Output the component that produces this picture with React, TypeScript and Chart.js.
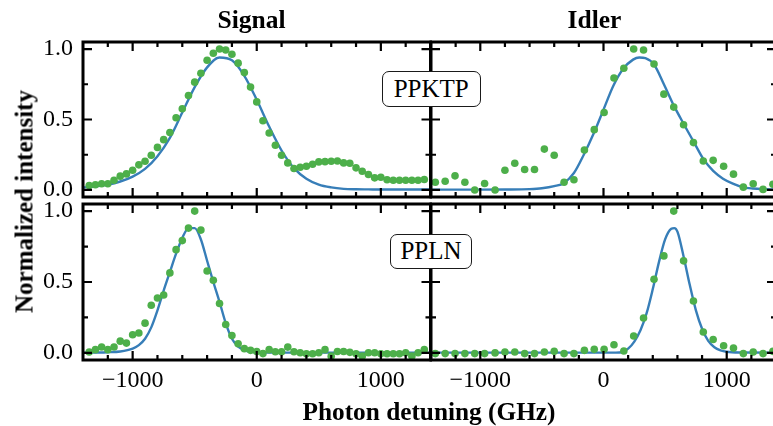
import React, { useEffect, useRef } from 'react';
import { Chart, registerables } from 'chart.js';

Chart.register(...registerables);

// ---------------- data ----------------
const X_MIN = -1400;
const X_MAX = 1400;
const Y_MIN = -0.05;
const Y_MAX = 1.05;

const X_MAJOR_TICKS = [-1000, 0, 1000];
const X_TICK_LABELS = ['\u22121000', '0', '1000'];
const X_MINOR_TICKS = [-1200, -800, -600, -400, -200, 200, 400, 600, 800, 1200];
const Y_MAJOR_TICKS = [0, 0.5, 1.0];
const Y_TICK_LABELS = ['0.0', '0.5', '1.0'];
const Y_MINOR_TICKS = [0.25, 0.75];

const PANEL_TITLES = ['Signal', 'Idler'];
const CRYSTALS = ['PPKTP', 'PPLN'];
const X_TITLE = 'Photon detuning (GHz)';
const Y_TITLE = 'Normalized intensity';

// Signal detuning grid (GHz) of the measured points
const SIGNAL_DET = [
  -1350, -1300, -1250, -1200, -1150, -1100, -1050, -1000, -950, -900, -850, -800, -750, -700,
  -650, -600, -550, -500, -450, -400, -350, -300, -250, -200, -150, -100, -50, 0, 50, 100, 150,
  200, 250, 300, 350, 400, 450, 500, 550, 600, 650, 700, 750, 800, 850, 900, 950, 1000, 1050,
  1100, 1150, 1200, 1250, 1300, 1350,
];
// Idler detuning grid (GHz) of the measured points
const IDLER_DET = [
  -1365, -1285, -1205, -1125, -1045, -965, -880, -800, -720, -640, -560, -480, -400, -320, -240,
  -155, -75, 5, 85, 165, 245, 325, 410, 490, 570, 650, 730, 810, 890, 975, 1055, 1135, 1215,
  1295, 1375,
];

const KTP_SIGNAL = [
  0.032, 0.037, 0.044, 0.044, 0.069, 0.098, 0.114, 0.14, 0.178, 0.204, 0.246, 0.302, 0.357, 0.408,
  0.512, 0.576, 0.67, 0.765, 0.828, 0.92, 0.97, 1.0, 0.993, 0.963, 0.9, 0.833, 0.73, 0.625, 0.491,
  0.404, 0.317, 0.246, 0.192, 0.152, 0.161, 0.168, 0.182, 0.199, 0.201, 0.204, 0.206, 0.192, 0.189,
  0.157, 0.133, 0.11, 0.086, 0.09, 0.072, 0.069, 0.069, 0.069, 0.069, 0.069, 0.074,
];
const KTP_IDLER = [
  0.055, 0.062, 0.1, 0.055, 0.0, 0.046, 0.0, 0.14, 0.19, 0.145, 0.145, 0.29, 0.246, 0.055, 0.072,
  0.284, 0.428, 0.55, 0.795, 0.864, 1.0, 0.993, 0.894, 0.68, 0.588, 0.463, 0.336, 0.206, 0.21,
  0.168, 0.112, 0.02, 0.044, 0.004, 0.04,
];
const LN_SIGNAL = [
  0.006, 0.023, 0.042, 0.023, 0.042, 0.083, 0.069, 0.128, 0.14, 0.21, 0.336, 0.387, 0.408, 0.564,
  0.728, 0.792, 0.88, 1.0, 0.866, 0.578, 0.512, 0.348, 0.2, 0.122, 0.065, 0.03, 0.018, 0.01, -0.005,
  0.023, 0.008, 0.008, 0.041, 0.008, 0.001, -0.006, -0.006, 0.001, 0.023, -0.023, 0.01, 0.01, 0.004,
  -0.006, -0.023, 0.001, 0.001, -0.006, -0.006, -0.006, -0.006, 0.001, -0.023, 0.001, 0.023,
];
const LN_IDLER = [
  -0.005, -0.005, -0.005, -0.005, -0.005, -0.005, 0.0, 0.006, 0.006, -0.005, -0.005, 0.006, 0.011,
  -0.005, -0.005, 0.018, 0.025, 0.025, 0.058, 0.013, 0.119, 0.246, 0.519, 0.684, 1.0, 0.649, 0.366,
  0.147, 0.095, 0.051, 0.034, -0.005, 0.006, -0.005, 0.011,
];

// fitted curves
const KTP_SIGNAL_FIT_DET = [
  -1400, -1300, -1200, -1100, -1000, -900, -800, -700, -600, -500, -400, -300, -200, -100, 0, 100,
  200, 300, 400, 500, 600, 700, 800, 900, 1000, 1200, 1400,
];
const KTP_SIGNAL_FIT = [
  0.017, 0.026, 0.038, 0.06, 0.095, 0.15, 0.24, 0.37, 0.55, 0.73, 0.87, 0.94, 0.92, 0.81, 0.64,
  0.45, 0.28, 0.155, 0.08, 0.038, 0.018, 0.008, 0.005, 0.004, 0.003, 0.003, 0.003,
];
const KTP_IDLER_FIT_DET = [
  -1400, -1000, -800, -600, -500, -400, -320, -240, -160, -80, 0, 80, 160, 240, 290, 340, 410, 490,
  570, 650, 730, 810, 890, 970, 1050, 1130, 1210, 1300, 1400,
];
const KTP_IDLER_FIT = [
  0.002, 0.002, 0.003, 0.006, 0.012, 0.027, 0.05, 0.12, 0.25, 0.4, 0.57, 0.74, 0.86, 0.925, 0.94,
  0.935, 0.89, 0.75, 0.6, 0.47, 0.345, 0.22, 0.135, 0.08, 0.045, 0.02, 0.01, 0.005, 0.003,
];
const LN_SIGNAL_FIT_DET = [
  -1400, -1300, -1200, -1100, -1000, -950, -900, -850, -800, -750, -700, -650, -600, -550, -500,
  -450, -400, -350, -300, -250, -200, -150, -100, -50, 0, 200, 1400,
];
const LN_SIGNAL_FIT = [
  0.002, 0.003, 0.005, 0.01, 0.03, 0.055, 0.1, 0.18, 0.3, 0.44, 0.57, 0.7, 0.81, 0.88, 0.88, 0.8,
  0.65, 0.5, 0.36, 0.21, 0.1, 0.045, 0.02, 0.008, 0.004, 0.002, 0.002,
];
const LN_IDLER_FIT_DET = [
  -1400, 100, 150, 200, 250, 300, 350, 400, 450, 500, 550, 575, 600, 650, 700, 750, 800, 850, 900,
  950, 1000, 1100, 1400,
];
const LN_IDLER_FIT = [
  0.002, 0.002, 0.005, 0.03, 0.08, 0.16, 0.28, 0.45, 0.64, 0.8, 0.875, 0.88, 0.855, 0.68, 0.48, 0.3,
  0.17, 0.085, 0.04, 0.018, 0.008, 0.003, 0.002,
];

// ---------------- layout / style ----------------
const CW = 780;
const CH = 426;
const GREEN = '#4daf4a';
const BLUE = '#377eb8';
const SERIF = '"Liberation Serif", "Times New Roman", serif';

type Area = { left: number; top: number; right: number; bottom: number };

const AREAS: Area[] = [
  { left: 83, top: 42, right: 430.5, bottom: 197 },
  { left: 431, top: 42, right: 778.5, bottom: 197 },
  { left: 83, top: 204, right: 430.5, bottom: 360 },
  { left: 431, top: 204, right: 778.5, bottom: 360 },
];

const frameTicksPlugin = {
  id: 'frameTicks',
  afterDatasetsDraw(chart: any) {
    const { ctx, chartArea: a, scales } = chart;
    const xs = scales.x;
    const ys = scales.y;
    ctx.save();
    ctx.strokeStyle = '#000';
    ctx.lineWidth = 2.2;
    ctx.lineCap = 'butt';
    ctx.beginPath();
    const xt = (vals: number[], len: number) => {
      vals.forEach((v) => {
        const p = xs.getPixelForValue(v);
        ctx.moveTo(p, a.bottom);
        ctx.lineTo(p, a.bottom - len);
        ctx.moveTo(p, a.top);
        ctx.lineTo(p, a.top + len);
      });
    };
    const yt = (vals: number[], len: number) => {
      vals.forEach((v) => {
        const p = ys.getPixelForValue(v);
        ctx.moveTo(a.left, p);
        ctx.lineTo(a.left + len, p);
        ctx.moveTo(a.right, p);
        ctx.lineTo(a.right - len, p);
      });
    };
    xt(X_MAJOR_TICKS, 9);
    xt(X_MINOR_TICKS, 5);
    yt(Y_MAJOR_TICKS, 9);
    yt(Y_MINOR_TICKS, 5);
    ctx.stroke();
    ctx.lineWidth = 3;
    ctx.strokeRect(a.left, a.top, a.right - a.left, a.bottom - a.top);
    ctx.restore();
  },
};

type PanelProps = {
  area: Area;
  detX: number[];
  intY: number[];
  fitX: number[];
  fitY: number[];
  xLabels: boolean;
  yLabels: boolean;
};

function Panel({ area, detX, intY, fitX, fitY, xLabels, yLabels }: PanelProps) {
  const ref = useRef<HTMLCanvasElement | null>(null);
  useEffect(() => {
    if (!ref.current) return;
    const font = { family: SERIF, size: 24 };
    const chart = new Chart(ref.current, {
      type: 'scatter',
      data: {
        datasets: [
          {
            data: detX.map((x, i) => ({ x, y: intY[i] })),
            pointRadius: 3.8,
            pointBackgroundColor: GREEN,
            pointBorderWidth: 0,
            showLine: false,
            order: 0,
          } as any,
          {
            data: fitX.map((x, i) => ({ x, y: fitY[i] })),
            showLine: true,
            pointRadius: 0,
            borderColor: BLUE,
            borderWidth: 2.4,
            cubicInterpolationMode: 'monotone',
            fill: false,
            order: 1,
          } as any,
        ],
      },
      options: {
        animation: false,
        responsive: false,
        devicePixelRatio: 1,
        events: [],
        layout: {
          padding: {
            left: yLabels ? 0 : area.left,
            top: area.top,
            right: CW - area.right,
            bottom: xLabels ? 0 : CH - area.bottom,
          },
        },
        scales: {
          x: {
            type: 'linear',
            min: X_MIN,
            max: X_MAX,
            display: xLabels,
            afterBuildTicks: (s: any) => {
              s.ticks = X_MAJOR_TICKS.map((value) => ({ value }));
            },
            afterFit: (s: any) => {
              s.height = xLabels ? CH - area.bottom : 0;
            },
            ticks: {
              callback: (_v: any, i: number) => X_TICK_LABELS[i],
              font,
              color: '#000',
              padding: 6,
              maxRotation: 0,
              autoSkip: false,
            },
            grid: { display: false, drawTicks: false },
            border: { display: false },
          },
          y: {
            type: 'linear',
            min: Y_MIN,
            max: Y_MAX,
            display: yLabels,
            afterBuildTicks: (s: any) => {
              s.ticks = Y_MAJOR_TICKS.map((value) => ({ value }));
            },
            afterFit: (s: any) => {
              s.width = yLabels ? area.left : 0;
            },
            ticks: {
              callback: (_v: any, i: number) => Y_TICK_LABELS[i],
              font,
              color: '#000',
              padding: 10,
              autoSkip: false,
            },
            grid: { display: false, drawTicks: false },
            border: { display: false },
          },
        },
        plugins: { legend: { display: false }, tooltip: { enabled: false } },
      } as any,
      plugins: [frameTicksPlugin],
    });
    return () => chart.destroy();
  }, []);
  return (
    <canvas
      ref={ref}
      width={CW}
      height={CH}
      style={{ position: 'absolute', left: 0, top: 0, width: CW, height: CH }}
    />
  );
}

function BoldText({ text, cx, baseline, size }: { text: string; cx: number; baseline: number; size: number }) {
  return (
    <div
      style={{
        position: 'absolute',
        left: cx - 200,
        width: 400,
        top: baseline - 0.8375 * size,
        height: size,
        lineHeight: `${size}px`,
        fontSize: size,
        fontFamily: SERIF,
        fontWeight: 'bold',
        textAlign: 'center',
        color: '#000',
        whiteSpace: 'nowrap',
      }}
    >
      {text}
    </div>
  );
}

function Badge({ text, left, top, width, height }: { text: string; left: number; top: number; width: number; height: number }) {
  return (
    <div
      style={{
        position: 'absolute',
        left,
        top,
        width,
        height,
        boxSizing: 'border-box',
        border: '1.3px solid #1a1a1a',
        borderRadius: 7,
        background: '#fff',
        fontFamily: SERIF,
        fontSize: 25,
        lineHeight: `${height - 2.6}px`,
        textAlign: 'center',
        color: '#000',
        whiteSpace: 'nowrap',
      }}
    >
      {text}
    </div>
  );
}

export default function App() {
  return (
    <div
      style={{
        position: 'fixed',
        left: 0,
        top: 0,
        width: 773,
        height: 426,
        overflow: 'hidden',
        background: '#fff',
      }}
    >
      <Panel area={AREAS[0]} detX={SIGNAL_DET} intY={KTP_SIGNAL} fitX={KTP_SIGNAL_FIT_DET} fitY={KTP_SIGNAL_FIT} xLabels={false} yLabels={true} />
      <Panel area={AREAS[1]} detX={IDLER_DET} intY={KTP_IDLER} fitX={KTP_IDLER_FIT_DET} fitY={KTP_IDLER_FIT} xLabels={false} yLabels={false} />
      <Panel area={AREAS[2]} detX={SIGNAL_DET} intY={LN_SIGNAL} fitX={LN_SIGNAL_FIT_DET} fitY={LN_SIGNAL_FIT} xLabels={true} yLabels={true} />
      <Panel area={AREAS[3]} detX={IDLER_DET} intY={LN_IDLER} fitX={LN_IDLER_FIT_DET} fitY={LN_IDLER_FIT} xLabels={true} yLabels={false} />

      <BoldText text={PANEL_TITLES[0]} cx={251.5} baseline={28.5} size={25.5} />
      <BoldText text={PANEL_TITLES[1]} cx={594.5} baseline={28.5} size={25.5} />
      <BoldText text={X_TITLE} cx={429} baseline={420} size={25.3} />
      <div
        style={{
          position: 'absolute',
          left: 24 - 200,
          top: 201 - 12.5,
          width: 400,
          height: 25,
          lineHeight: '25px',
          fontSize: 25,
          fontFamily: SERIF,
          fontWeight: 'bold',
          textAlign: 'center',
          color: '#000',
          whiteSpace: 'nowrap',
          transform: 'rotate(-90deg)',
          transformOrigin: '50% 50%',
        }}
      >
        {Y_TITLE}
      </div>

      <Badge text={CRYSTALS[0]} left={381.5} top={71} width={99.5} height={36} />
      <Badge text={CRYSTALS[1]} left={390} top={233.5} width={82} height={35} />
    </div>
  );
}
